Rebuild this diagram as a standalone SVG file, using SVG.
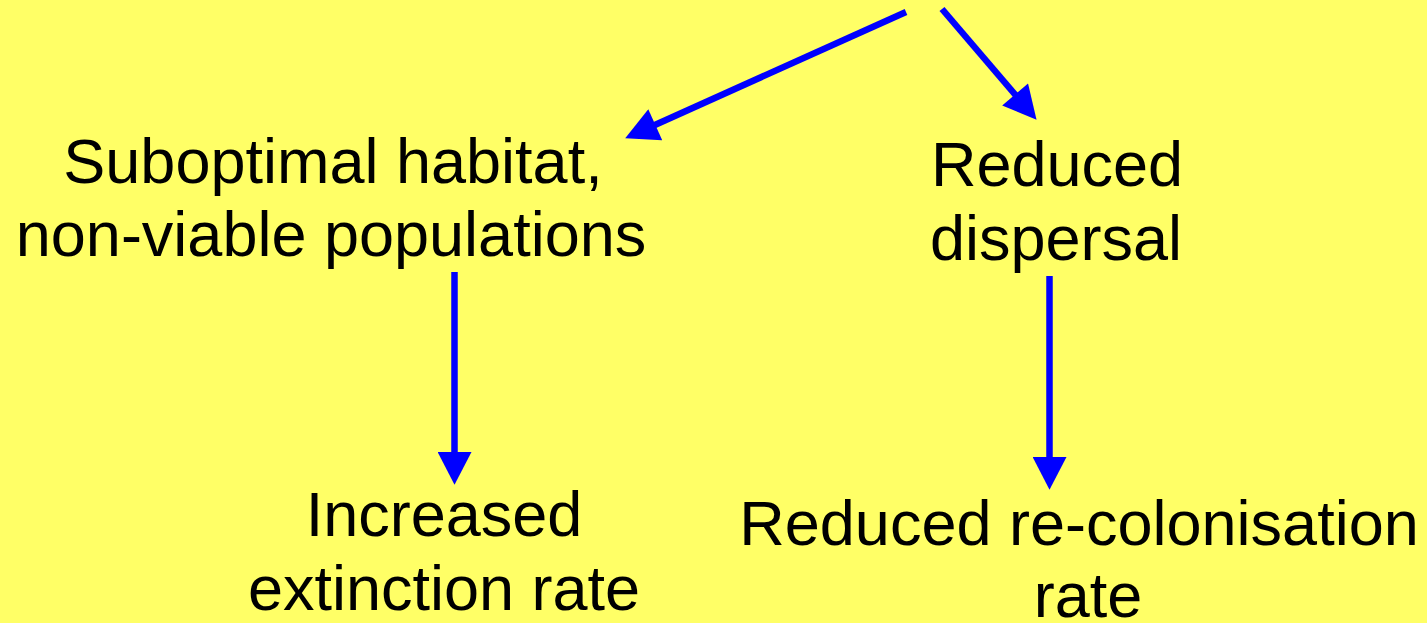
<svg xmlns="http://www.w3.org/2000/svg" width="1427" height="623" viewBox="0 0 1427 623">
  <style>
    .lbl { font-family: "Liberation Sans", Arial, sans-serif; font-size: 63px; fill: #000000; text-anchor: middle; }
    .conn { stroke: #0000FF; stroke-width: 6.5; fill: none; marker-end: url(#head); }
  </style>
  <defs>
    <marker id="head" markerUnits="userSpaceOnUse" markerWidth="34" markerHeight="34" viewBox="0 0 32 33" refX="4" refY="16.5" orient="auto">
      <path d="M0,0 L32,16.5 L0,33 Z" fill="#0000FF"/>
    </marker>
  </defs>

  <rect x="0" y="0" width="1427" height="623" fill="#FFFF66"/>

  <!-- connectors -->
  <g id="connectors">
    <line class="conn" x1="906" y1="12" x2="651.5" y2="126.5"/>
    <line class="conn" x1="942" y1="9" x2="1017.8" y2="97.7"/>
    <line class="conn" x1="454.5" y1="272" x2="454.5" y2="456"/>
    <line class="conn" x1="1049.5" y1="276" x2="1049.5" y2="461"/>
  </g>

  <g id="suboptimal">
    <text class="lbl" x="333" y="183">Suboptimal habitat,</text>
    <text class="lbl" x="331" y="256">non-viable populations</text>
  </g>

  <g id="dispersal">
    <text class="lbl" x="1057" y="186">Reduced</text>
    <text class="lbl" x="1056" y="260">dispersal</text>
  </g>

  <g id="extinction">
    <text class="lbl" x="444" y="536">Increased</text>
    <text class="lbl" x="444" y="610">extinction rate</text>
  </g>

  <g id="recolonisation">
    <text class="lbl" x="1079" y="545">Reduced re-colonisation</text>
    <text class="lbl" x="1088" y="617">rate</text>
  </g>
</svg>
